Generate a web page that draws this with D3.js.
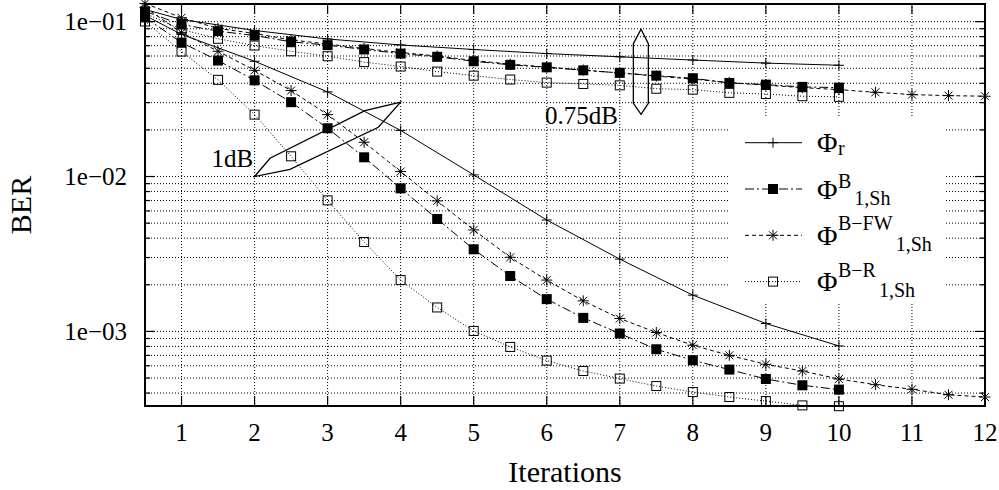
<!DOCTYPE html>
<html>
<head>
<meta charset="utf-8">
<script src="https://cdn.jsdelivr.net/npm/d3@7"></script>
<style>
  body { margin: 0; background: #fff; }
  text { font-family: "Liberation Serif", "Times New Roman", serif; fill: #000; }
</style>
</head>
<body>
<div id="wrapper"></div>
<script>
// iterations (half iterations for the B schemes)
const itersR = [0.5, 1, 2, 3, 4, 5, 6, 7, 8, 9, 10];
const itersHalf = [0.5, 1, 1.5, 2, 2.5, 3, 3.5, 4, 4.5, 5, 5.5, 6, 6.5, 7, 7.5, 8, 8.5, 9, 9.5, 10];
const itersLong = [0.5, 1, 1.5, 2, 2.5, 3, 3.5, 4, 4.5, 5, 5.5, 6, 6.5, 7, 7.5, 8, 8.5, 9, 9.5, 10, 10.5, 11, 11.5, 12];

// lower SNR (upper bundle of curves)
const berR_low = [0.1199, 0.1033, 0.0877, 0.0773, 0.0707, 0.0661, 0.0622, 0.0593, 0.0565, 0.054, 0.0523];
const berB_low = [0.1164, 0.0959, 0.0868, 0.0814, 0.0741, 0.0705, 0.0661, 0.0622, 0.0593, 0.0555,
  0.0526, 0.0507, 0.0485, 0.0467, 0.0448, 0.0431, 0.0402, 0.0392, 0.0379, 0.0375];
const berFW_low = [0.1312, 0.106, 0.0904, 0.0839, 0.0762, 0.0717, 0.0671, 0.0632, 0.06, 0.0561,
  0.0532, 0.0509, 0.0487, 0.0466, 0.0445, 0.0426, 0.0404, 0.0389, 0.0375, 0.0364,
  0.035, 0.0338, 0.0333, 0.033];
const berBR_low = [0.113, 0.0891, 0.0775, 0.0701, 0.0644, 0.0598, 0.0548, 0.0513, 0.0476, 0.0448,
  0.0423, 0.0404, 0.0396, 0.0388, 0.0369, 0.0364, 0.0347, 0.0341, 0.033, 0.0327];

// higher SNR (+1dB, lower bundle)
const berR_high = [0.1097, 0.0827, 0.0555, 0.0352, 0.01985, 0.01025, 0.00524, 0.00293, 0.001715, 0.001125, 0.000806];
const berB_high = [0.1065, 0.0733, 0.0561, 0.0418, 0.0302, 0.0205, 0.01331, 0.00839, 0.00532, 0.00339,
  0.00228, 0.001616, 0.001223, 0.000969, 0.000767, 0.000651, 0.000567, 0.000493, 0.000449, 0.000421];
const berFW_high = [0.1236, 0.0849, 0.0644, 0.0485, 0.0359, 0.0251, 0.01665, 0.01077, 0.00696, 0.00452,
  0.00301, 0.002145, 0.001576, 0.001212, 0.000984, 0.000814, 0.000701, 0.000613, 0.000555, 0.000493,
  0.000453, 0.000423, 0.00039, 0.000377];
const berBR_high = [0.1003, 0.0641, 0.0421, 0.0251, 0.01351, 0.00702, 0.00378, 0.002145, 0.001428, 0.001007,
  0.000794, 0.000648, 0.000555, 0.000496, 0.000444, 0.000406, 0.000377, 0.000355, 0.000333, 0.000329];

const xTickValues = [1, 2, 3, 4, 5, 6, 7, 8, 9, 10, 11, 12];
const yTickValues = [1e-1, 1e-2, 1e-3];
const yTickLabels = ["1e\u221201", "1e\u221202", "1e\u221203"];

const legendSup = ["", "B", "B\u2212FW", "B\u2212R"];
const legendSub = ["r", "1,Sh", "1,Sh", "1,Sh"];

// annotation shapes (data coordinates)
const oneDbShape = [[2, 0.01], [2.212, 0.01312], [3.512, 0.02662], [4, 0.0302], [3.694, 0.0208], [2.485, 0.01114]];
const quarterDbShape = [[7.291, 0.0893], [7.391, 0.072], [7.391, 0.0297], [7.291, 0.0252], [7.186, 0.0297], [7.186, 0.072]];

let dimensions = {
  width: 999,
  height: 490,
  margin: { top: 4, right: 14, bottom: 84, left: 145 }
};
dimensions.boundedWidth = dimensions.width - dimensions.margin.left - dimensions.margin.right;
dimensions.boundedHeight = dimensions.height - dimensions.margin.top - dimensions.margin.bottom;

const styles = {
  R: { dash: null, marker: "plus" },
  B: { dash: "9,3,2,3", marker: "filled" },
  FW: { dash: "4,3", marker: "star" },
  BR: { dash: "1,2", marker: "open" }
};

const series = [
  { key: "R", x: itersR, y: berR_low },
  { key: "B", x: itersHalf, y: berB_low },
  { key: "FW", x: itersLong, y: berFW_low },
  { key: "BR", x: itersHalf, y: berBR_low },
  { key: "R", x: itersR, y: berR_high },
  { key: "B", x: itersHalf, y: berB_high },
  { key: "FW", x: itersLong, y: berFW_high },
  { key: "BR", x: itersHalf, y: berBR_high }
];

function drawMarker(sel, type) {
  if (type === "plus") {
    sel.append("path").attr("d", "M-5,0H5M0,-5V5").attr("stroke", "#000").attr("stroke-width", 1);
  } else if (type === "star") {
    sel.append("path")
      .attr("d", "M-5.5,0H5.5M0,-5.5V5.5M-4,-4L4,4M-4,4L4,-4")
      .attr("stroke", "#000").attr("stroke-width", 1);
  } else if (type === "filled") {
    sel.append("rect").attr("x", -5).attr("y", -5).attr("width", 10).attr("height", 10).attr("fill", "#000");
  } else if (type === "open") {
    sel.append("rect").attr("x", -4.5).attr("y", -4.5).attr("width", 9).attr("height", 9)
      .attr("fill", "none").attr("stroke", "#000").attr("stroke-width", 1);
  }
}

function drawChart() {
  const svg = d3.select("#wrapper").append("svg")
    .attr("width", dimensions.width)
    .attr("height", dimensions.height);

  const bounds = svg.append("g")
    .attr("transform", `translate(${dimensions.margin.left},${dimensions.margin.top})`);

  const xScale = d3.scaleLinear().domain([0.5, 12]).range([0, dimensions.boundedWidth]);
  const yScale = d3.scaleLog().domain([3.3e-4, 0.13]).range([dimensions.boundedHeight, 0]);

  bounds.append("clipPath").attr("id", "plotClip")
    .append("rect").attr("width", dimensions.boundedWidth).attr("height", dimensions.boundedHeight);

  // grid
  const grid = bounds.append("g")
    .attr("stroke", "#000").attr("stroke-width", 1).attr("stroke-dasharray", "1,2");
  grid.selectAll(".gy").data(yScale.ticks()).join("line")
    .attr("x1", 0).attr("x2", dimensions.boundedWidth)
    .attr("y1", d => yScale(d)).attr("y2", d => yScale(d));
  grid.selectAll(".gx").data(xTickValues.filter(d => d < 12)).join("line")
    .attr("x1", d => xScale(d)).attr("x2", d => xScale(d))
    .attr("y1", 0).attr("y2", dimensions.boundedHeight);

  // legend background (opaque key box)
  const legendBox = { x: 728 - dimensions.margin.left, y: 118 - dimensions.margin.top, w: 216, h: 185 };
  bounds.append("rect")
    .attr("x", legendBox.x).attr("y", legendBox.y)
    .attr("width", legendBox.w).attr("height", legendBox.h)
    .attr("fill", "#fff");

  // lines
  const lineGen = d3.line().x(d => xScale(d[0])).y(d => yScale(d[1]));
  const lines = bounds.append("g").attr("clip-path", "url(#plotClip)");
  series.forEach(s => {
    const pts = s.x.map((x, i) => [x, s.y[i]]);
    lines.append("path")
      .attr("d", lineGen(pts))
      .attr("fill", "none")
      .attr("stroke", "#000")
      .attr("stroke-width", 1)
      .attr("stroke-dasharray", styles[s.key].dash);
  });

  // markers
  series.forEach(s => {
    const pts = s.x.map((x, i) => [x, s.y[i]]);
    const g = bounds.append("g").selectAll("g").data(pts).join("g")
      .attr("transform", d => `translate(${xScale(d[0])},${yScale(d[1])})`);
    drawMarker(g, styles[s.key].marker);
  });

  // annotations
  const shapeLine = d3.line().x(d => xScale(d[0])).y(d => yScale(d[1])).curve(d3.curveLinearClosed);
  [oneDbShape, quarterDbShape].forEach(shape => {
    bounds.append("path").attr("d", shapeLine(shape))
      .attr("fill", "none").attr("stroke", "#000").attr("stroke-width", 1.3);
  });
  bounds.append("text")
    .attr("x", xScale(1.98)).attr("y", yScale(0.01153))
    .attr("text-anchor", "end").attr("font-size", 25).text("1dB");
  bounds.append("text")
    .attr("x", xScale(5.977)).attr("y", yScale(0.02184))
    .attr("font-size", 25).text("0.75dB");

  // border
  bounds.append("rect")
    .attr("width", dimensions.boundedWidth).attr("height", dimensions.boundedHeight)
    .attr("fill", "none").attr("stroke", "#000").attr("stroke-width", 2);

  // ticks
  const ticks = bounds.append("g").attr("stroke", "#000").attr("stroke-width", 1.2);
  yScale.ticks().forEach(v => {
    const major = yTickValues.includes(v);
    const len = major ? 10 : 5;
    ticks.append("line").attr("x1", 0).attr("x2", len).attr("y1", yScale(v)).attr("y2", yScale(v));
    ticks.append("line").attr("x1", dimensions.boundedWidth).attr("x2", dimensions.boundedWidth - len)
      .attr("y1", yScale(v)).attr("y2", yScale(v));
  });
  xTickValues.forEach(v => {
    ticks.append("line").attr("x1", xScale(v)).attr("x2", xScale(v))
      .attr("y1", dimensions.boundedHeight).attr("y2", dimensions.boundedHeight - 10);
    ticks.append("line").attr("x1", xScale(v)).attr("x2", xScale(v))
      .attr("y1", 0).attr("y2", 10);
  });

  // tick labels
  bounds.selectAll(".ytl").data(yTickValues).join("text")
    .attr("x", -18).attr("y", d => yScale(d))
    .attr("dy", "0.35em")
    .attr("text-anchor", "end").attr("font-size", 25)
    .text((d, i) => yTickLabels[i]);
  bounds.selectAll(".xtl").data(xTickValues).join("text")
    .attr("x", d => xScale(d)).attr("y", dimensions.boundedHeight + 35)
    .attr("text-anchor", "middle").attr("font-size", 25)
    .text(d => d);

  // axis titles
  bounds.append("text")
    .attr("x", dimensions.boundedWidth / 2).attr("y", dimensions.boundedHeight + 76)
    .attr("text-anchor", "middle").attr("font-size", 30).text("Iterations");
  svg.append("text")
    .attr("transform", `translate(31,${dimensions.margin.top + dimensions.boundedHeight / 2}) rotate(-90)`)
    .attr("text-anchor", "middle").attr("font-size", 30).text("BER");

  // legend
  const legendKeys = ["R", "B", "FW", "BR"];
  const legend = svg.append("g");
  legendKeys.forEach((k, i) => {
    const rowY = 142.7 + i * 46.3;
    legend.append("line")
      .attr("x1", 745).attr("x2", 802).attr("y1", rowY).attr("y2", rowY)
      .attr("stroke", "#000").attr("stroke-width", 1)
      .attr("stroke-dasharray", styles[k].dash);
    drawMarker(legend.append("g").attr("transform", `translate(773,${rowY})`), styles[k].marker);
    legend.append("text").attr("x", 817).attr("y", rowY + 9.5).attr("font-size", 28).text("\u03A6");
    if (legendSup[i] === "") {
      legend.append("text").attr("x", 838).attr("y", rowY + 12.5).attr("font-size", 20).text(legendSub[i]);
    } else {
      const supY = i === 1 ? rowY - 1 : rowY - 5;
      const sup = legend.append("text").attr("x", 838).attr("y", supY).attr("font-size", 20).text(legendSup[i]);
      const w = sup.node().getComputedTextLength();
      legend.append("text").attr("x", 838 + w + 3).attr("y", rowY + 15.5).attr("font-size", 20).text(legendSub[i]);
    }
  });
}

drawChart();
</script>
</body>
</html>
